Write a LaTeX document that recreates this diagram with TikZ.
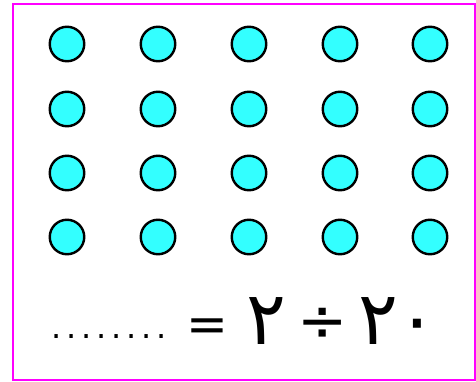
\documentclass[tikz,border=0pt]{standalone}
\usepackage{fontspec}
\newfontfamily\arabicfont[Script=Arabic]{DejaVu Sans}
\newfontfamily\dvs{DejaVu Sans}
\newfontfamily\dvsdots[LetterSpace=15]{DejaVu Sans}
\definecolor{dotfill}{RGB}{51,255,255}
\definecolor{frame}{RGB}{255,0,255}
\begin{document}
\begin{tikzpicture}[x=1pt,y=-1pt,
  dotc/.style={circle,draw=black,fill=dotfill,line width=2.4pt,minimum size=34.5pt,inner sep=0pt},
  txt/.style={anchor=base,inner sep=0pt}]
\useasboundingbox (0,0) rectangle (476,382);
\draw[frame,line width=2.5pt] (13,4) rectangle (475,380);
\foreach \c [count=\i] in {67,158,249,340,430}{
  \foreach \r [count=\j] in {44,109,173,237}{
    \node[dotc] (c\i\j) at (\c,\r) {};
  }
}
\node[txt,font=\dvsdots\fontsize{32}{32}\selectfont] (dots) at (109,338) {........};
\node[txt,font=\dvs\fontsize{50}{50}\selectfont] (eq) at (207,341) {=};
\node[txt,font=\arabicfont\fontsize{74}{74}\selectfont] (two) at (266,344) {٢};
\node[txt,font=\dvs\fontsize{60}{60}\selectfont] (div) at (323,341) {÷};
\node[txt,font=\arabicfont\fontsize{74}{74}\selectfont] (twenty) at (398,344) {٢٠};
\end{tikzpicture}
\end{document}
